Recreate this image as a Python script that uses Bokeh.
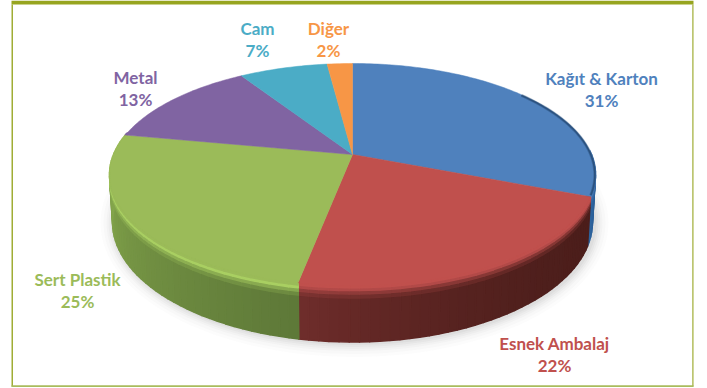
from bokeh.embed import file_html
from bokeh.models import Range1d
from bokeh.plotting import figure
from bokeh.resources import INLINE
from bokeh.core.properties import value
import numpy as np

# Waste composition shares, clockwise from twelve o'clock
categories = ["Kağıt & Karton", "Esnek Ambalaj", "Sert Plastik", "Metal", "Cam", "Diğer"]
shares = [31, 22, 25, 13, 7, 2]

top_colors = ["#4f81bd", "#c0504d", "#9bbb59", "#8064a2", "#4bacc6", "#f79646"]
label_colors = ["#4f81bd", "#c0504d", "#9bbb59", "#8064a2", "#4bacc6", "#f79646"]
# Rim colours at the start and end of each slice's side wall
wall_from = ["#1f4f86", "#4c1e1b", "#5e7838", "#5b4775", "#357c90", "#b06a30"]
wall_to = ["#2f659f", "#6f2d2b", "#8aae4f", "#5b4775", "#357c90", "#b06a30"]
highlight = ["#3a6ca8", "#b24a48", "#a9cf62", "#8064a2", "#4bacc6", "#f79646"]

label_x = [601, 554, 77, 135, 257, 328]
label_y = [78, 343, 279, 77, 28, 28]
LINE_GAP = 22

# Perspective disc: tilt strength, centre and radii for the top and bottom faces
TILT = 0.18
CX = 352
TOP = dict(cy=154, ax=239, by=107.4)
BOTTOM = dict(cy=200, ax=236, by=116)


def project(deg, face):
    a = np.radians(np.asarray(deg, dtype=float))
    u, v = np.sin(a), np.cos(a)
    w = 1 + TILT * v
    return CX + face["ax"] * u / w, face["cy"] - face["by"] * v / w


def hex_rgb(c):
    return np.array([int(c[i:i + 2], 16) for i in (1, 3, 5)], dtype=float)


def mix(a, b, t):
    r = hex_rgb(a) * (1 - t) + hex_rgb(b) * t
    return "#%02x%02x%02x" % tuple(int(round(x)) for x in r)


p = figure(width=707, height=388, output_backend="svg", toolbar_location=None,
           x_range=Range1d(0, 707), y_range=Range1d(388, 0),
           min_border=0, outline_line_color=None, background_fill_color="white",
           border_fill_color="white")
p.axis.visible = False
p.grid.visible = False

# Page frame around the chart
OLIVE = "#97a51f"
p.quad(left=[11], right=[693], top=[0], bottom=[4], fill_color=OLIVE, line_color=None)
p.quad(left=[11], right=[12.5], top=[4], bottom=[386], fill_color="#a0ad35", line_color=None)
p.quad(left=[691.8], right=[693], top=[4], bottom=[386], fill_color="#a0ad35", line_color=None)
p.quad(left=[11], right=[693], top=[384.8], bottom=[386.5], fill_color="#a9bb5c", line_color=None)

# Soft shadow under the disc
ring = np.linspace(0, 360, 181)
for grow, alpha in zip([14, 11, 8, 6, 4, 2], [0.018, 0.025, 0.03, 0.035, 0.04, 0.05]):
    sx, sy = project(ring, BOTTOM)
    sx = CX + (sx - CX) * (1 + grow / 240) + 2
    sy = 222 + (sy - 222) * (1 + grow / 120) + 1
    p.patch(sx, sy, fill_color="#555555", fill_alpha=alpha, line_color=None)

# Slice boundaries in degrees, derived from the shares
edges = np.concatenate([[0], np.cumsum(shares)]) * 3.6

# Side wall: one strip per slice, each split along its arc into shaded cells,
# with a bevel band running along the upper edge
layers = [0, 0.04, 0.09, 0.15, 0.22, 1.0]
wall_xs, wall_ys, wall_cs = [], [], []
for i in range(len(shares)):
    start, stop = max(edges[i], 88), min(edges[i + 1], 282)
    if start >= stop:
        continue
    steps = max(2, int((stop - start) / 2))
    ang = np.linspace(start, stop, steps + 1)
    tx, ty = project(ang, TOP)
    bx, by = project(ang, BOTTOM)
    for l in range(len(layers) - 2, -1, -1):
        t0, t1 = layers[l], layers[l + 1]
        for s in range(steps):
            f = (s + 0.5) / steps
            body = mix(wall_from[i], wall_to[i], f)
            if i == 1:
                body = mix(wall_from[i], wall_to[i], f ** 2.2)
            tints = [top_colors[i], highlight[i], mix(highlight[i], body, 0.45),
                     mix(highlight[i], body, 0.8), body]
            xa = tx[s:s + 2] + (bx[s:s + 2] - tx[s:s + 2]) * t0
            ya = ty[s:s + 2] + (by[s:s + 2] - ty[s:s + 2]) * t0
            xb = tx[s:s + 2] + (bx[s:s + 2] - tx[s:s + 2]) * t1
            yb = ty[s:s + 2] + (by[s:s + 2] - ty[s:s + 2]) * t1
            wall_xs.append([xa[0], xa[1], xb[1], xb[0]])
            wall_ys.append([ya[0], ya[1], yb[1], yb[0]])
            wall_cs.append(tints[l])
p.patches(wall_xs, wall_ys, fill_color=wall_cs, line_color=wall_cs, line_width=1.6,
          line_join="round")

# Top face, one patch per slice meeting at the apex
face_xs, face_ys = [], []
for i in range(len(shares)):
    ang = np.linspace(edges[i], edges[i + 1], max(3, int(shares[i] * 3.6)))
    x, y = project(ang, TOP)
    apex_x, apex_y = project([90], dict(TOP, ax=0, by=0))
    face_xs.append(np.concatenate([apex_x, x]).tolist())
    face_ys.append(np.concatenate([apex_y, y]).tolist())
p.patches(face_xs, face_ys, fill_color=top_colors, line_color=top_colors, line_width=0.5)

# Darkened rim on the blue slice
for width, alpha in [(3.0, 0.3), (1.5, 0.5)]:
    ang = np.linspace(52, edges[1] - 1, 40)
    x, y = project(ang, TOP)
    p.line(x - 0.6, y + 0.4, line_color="#17375e", line_width=width, line_alpha=alpha)

# Name and percentage labels
names, percents, nx, ny, py, cols = [], [], [], [], [], []
for i, c in enumerate(categories):
    names.append(c)
    percents.append(f"{shares[i]}%")
    nx.append(label_x[i])
    ny.append(label_y[i])
    py.append(label_y[i] + LINE_GAP)
    cols.append(label_colors[i])
for ys, texts in ((ny, names), (py, percents)):
    p.text(x=nx, y=ys, text=texts, text_color=cols, text_font=value("Lato"),
           text_font_style="bold", text_font_size="17px",
           text_align="center", text_baseline="middle")

open("out.html", "w").write(file_html(p, INLINE))
